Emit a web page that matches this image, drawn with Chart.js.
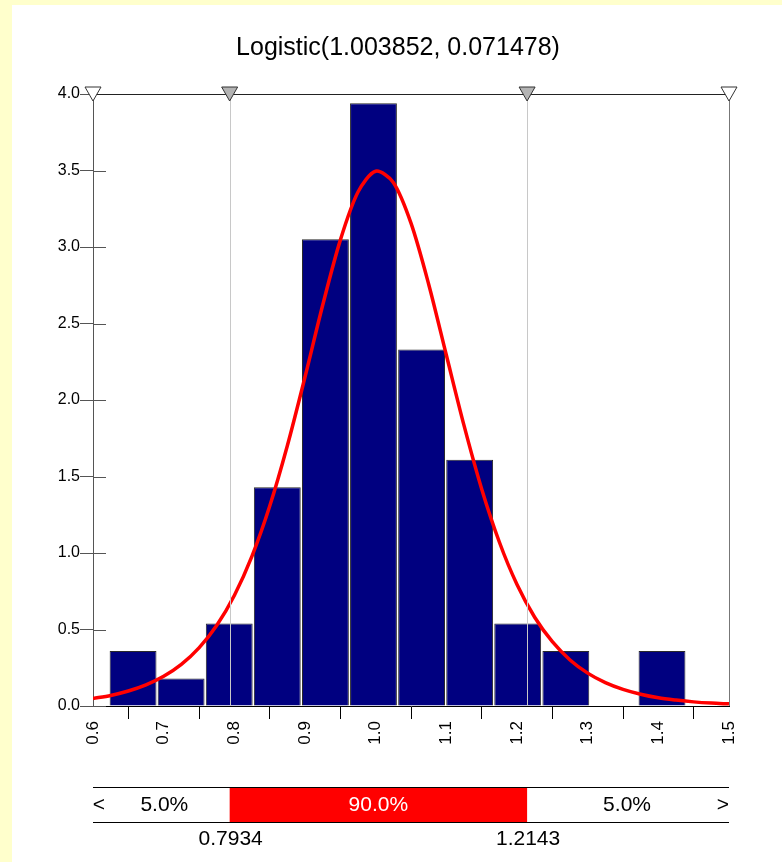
<!DOCTYPE html>
<html>
<head>
<meta charset="utf-8">
<script src="https://cdn.jsdelivr.net/npm/chart.js@4.4.1/dist/chart.umd.min.js"></script>
<style>
  html, body { margin: 0; padding: 0; background: #ffffcc; }
  canvas { display: block; }
</style>
</head>
<body>
<canvas id="fit-chart" width="782" height="862"></canvas>
<script>
// Histogram bins (centres) and densities
const binCenters = [0.6567, 0.7247, 0.7928, 0.8608, 0.9289, 0.9969, 1.0650, 1.1330, 1.2010, 1.2691, 1.3371, 1.4052];
const densities = [0.36, 0.18, 0.54, 1.43, 3.05, 3.94, 2.33, 1.61, 0.54, 0.36, 0, 0.36];

// Fitted curve
const curveX = [0.6, 0.625, 0.65, 0.675, 0.7, 0.725, 0.75, 0.775, 0.8, 0.825, 0.85, 0.875, 0.9, 0.925, 0.95, 0.975,
  1.0, 1.025, 1.05, 1.075, 1.1, 1.125, 1.15, 1.175, 1.2, 1.225, 1.25, 1.275, 1.3, 1.325, 1.35, 1.375, 1.4, 1.425, 1.45, 1.475, 1.5];
const curveY = [0.049, 0.069, 0.098, 0.138, 0.194, 0.272, 0.380, 0.526, 0.722, 0.979, 1.305, 1.701, 2.150, 2.619, 3.045, 3.359,
  3.495, 3.422, 3.156, 2.757, 2.294, 1.834, 1.419, 1.072, 0.794, 0.580, 0.420, 0.301, 0.215, 0.153, 0.109, 0.077, 0.054, 0.039, 0.027, 0.019, 0.014];

// Delimiters and the probability bar
const markerValues = [0.7934, 1.2143];
const markerLabels = ['0.7934', '1.2143'];
const bandLabels = ['5.0%', '90.0%', '5.0%'];
const titleText = 'Logistic(1.003852, 0.071478)';

const FONT = "'Liberation Sans', Arial, sans-serif";

// yellow frame behind a white page, plus the title
const backgroundPlugin = {
  id: 'frame',
  beforeDraw(chart) {
    const ctx = chart.ctx;
    ctx.save();
    ctx.fillStyle = '#ffffcc';
    ctx.fillRect(0, 0, chart.width, chart.height);
    ctx.fillStyle = '#ffffff';
    ctx.fillRect(12, 5, chart.width - 12, chart.height - 5);
    ctx.font = '25px ' + FONT;
    ctx.textAlign = 'center';
    ctx.textBaseline = 'middle';
    ctx.fillStyle = '#000000';
    ctx.fillText(titleText, 398, 48);
    ctx.restore();
  }
};

function triangle(ctx, x, y, fill) {
  ctx.beginPath();
  ctx.moveTo(x - 8, y - 7);
  ctx.lineTo(x + 8, y - 7);
  ctx.lineTo(x, y + 7);
  ctx.closePath();
  ctx.fillStyle = fill;
  ctx.fill();
  ctx.strokeStyle = '#333333';
  ctx.lineWidth = 1;
  ctx.stroke();
}

// borders, inner ticks, delimiters and the bottom bar
const overlayPlugin = {
  id: 'overlay',
  afterDatasetsDraw(chart) {
    const ctx = chart.ctx;
    const area = chart.chartArea;
    const xs = chart.scales.x;
    const ys = chart.scales.y;
    ctx.save();

    // inner part of the y ticks
    ctx.strokeStyle = '#555555';
    ctx.lineWidth = 1;
    ys.ticks.forEach((t) => {
      const py = Math.round(ys.getPixelForValue(t.value)) + 0.5;
      ctx.beginPath();
      ctx.moveTo(area.left, py);
      ctx.lineTo(area.left + 13, py);
      ctx.stroke();
    });

    // right border
    ctx.strokeStyle = '#777777';
    ctx.beginPath();
    ctx.moveTo(Math.round(area.right) + 0.5, area.top);
    ctx.lineTo(Math.round(area.right) + 0.5, area.bottom);
    ctx.stroke();

    // delimiter lines
    ctx.strokeStyle = '#c8c8c8';
    markerValues.forEach((v) => {
      const px = Math.round(xs.getPixelForValue(v)) + 0.5;
      ctx.beginPath();
      ctx.moveTo(px, area.top);
      ctx.lineTo(px, area.bottom);
      ctx.stroke();
    });

    // top border
    ctx.strokeStyle = '#222222';
    ctx.beginPath();
    ctx.moveTo(area.left, Math.round(area.top) + 0.5);
    ctx.lineTo(area.right, Math.round(area.top) + 0.5);
    ctx.stroke();

    // triangles
    triangle(ctx, xs.getPixelForValue(xs.min), area.top, '#ffffff');
    triangle(ctx, xs.getPixelForValue(xs.max), area.top, '#ffffff');
    markerValues.forEach((v) => triangle(ctx, xs.getPixelForValue(v), area.top, '#b4b4b4'));

    // probability bar
    const barTop = 787;
    const barBottom = 822;
    const x1 = xs.getPixelForValue(markerValues[0]);
    const x2 = xs.getPixelForValue(markerValues[1]);
    ctx.fillStyle = '#ff0000';
    ctx.fillRect(x1, barTop, x2 - x1, barBottom - barTop);
    ctx.strokeStyle = '#000000';
    ctx.beginPath();
    ctx.moveTo(area.left, barTop + 0.5);
    ctx.lineTo(area.right, barTop + 0.5);
    ctx.moveTo(area.left, barBottom + 0.5);
    ctx.lineTo(area.right, barBottom + 0.5);
    ctx.stroke();

    const midY = (barTop + barBottom) / 2 + 1;
    ctx.font = '21px ' + FONT;
    ctx.textAlign = 'center';
    ctx.textBaseline = 'middle';
    ctx.fillStyle = '#000000';
    ctx.fillText('<', area.left + 6, midY);
    ctx.fillText('>', area.right - 6, midY);
    ctx.fillText(bandLabels[0], (area.left + x1) / 2 + 3, midY);
    ctx.fillText(bandLabels[2], (x2 + area.right) / 2 - 1, midY);
    ctx.fillStyle = '#ffffff';
    ctx.fillText(bandLabels[1], (x1 + x2) / 2, midY);

    ctx.fillStyle = '#000000';
    markerLabels.forEach((lbl, i) => {
      ctx.fillText(lbl, xs.getPixelForValue(markerValues[i]) + 1, 839);
    });
    ctx.restore();
  }
};

function renderFitChart() {
  const ctx = document.getElementById('fit-chart').getContext('2d');
  new Chart(ctx, {
    data: {
      datasets: [
        {
          type: 'line',
          label: 'fit',
          data: curveX.map((x, i) => ({ x: x, y: curveY[i] })),
          borderColor: '#ff0000',
          borderWidth: 3.5,
          pointRadius: 0,
          tension: 0.3,
          order: 0,
        },
        {
          type: 'bar',
          label: 'histogram',
          data: binCenters.map((x, i) => ({ x: x, y: densities[i] })),
          backgroundColor: '#000080',
          borderColor: '#2a2a2a',
          borderWidth: 1,
          barPercentage: 0.975,
          categoryPercentage: 1,
          order: 1,
        },
      ],
    },
    options: {
      responsive: false,
      animation: false,
      devicePixelRatio: 1,
      layout: { padding: { left: 0, right: 53, top: 94, bottom: 0 } },
      plugins: {
        legend: { display: false },
        tooltip: { enabled: false },
        title: { display: false },
      },
      scales: {
        x: {
          type: 'linear',
          min: 0.6,
          max: 1.5,
          offset: false,
          afterFit: (scale) => { scale.height = 156; },
          ticks: {
            stepSize: 0.1,
            autoSkip: false,
            minRotation: 90,
            maxRotation: 90,
            padding: 2,
            color: '#000000',
            font: { family: FONT, size: 17 },
            callback: (v) => Number(v).toFixed(1),
          },
          grid: { drawOnChartArea: false, tickLength: 13, color: '#000000' },
          border: { color: '#000000' },
        },
        y: {
          min: 0,
          max: 4,
          afterFit: (scale) => { scale.width = 93; },
          ticks: {
            stepSize: 0.5,
            padding: 0,
            color: '#000000',
            font: { family: FONT, size: 16 },
            callback: (v) => Number(v).toFixed(1),
          },
          grid: { drawOnChartArea: false, tickLength: 13, color: '#555555' },
          border: { color: '#555555' },
        },
      },
    },
    plugins: [backgroundPlugin, overlayPlugin],
  });
}

renderFitChart();
</script>
</body>
</html>
